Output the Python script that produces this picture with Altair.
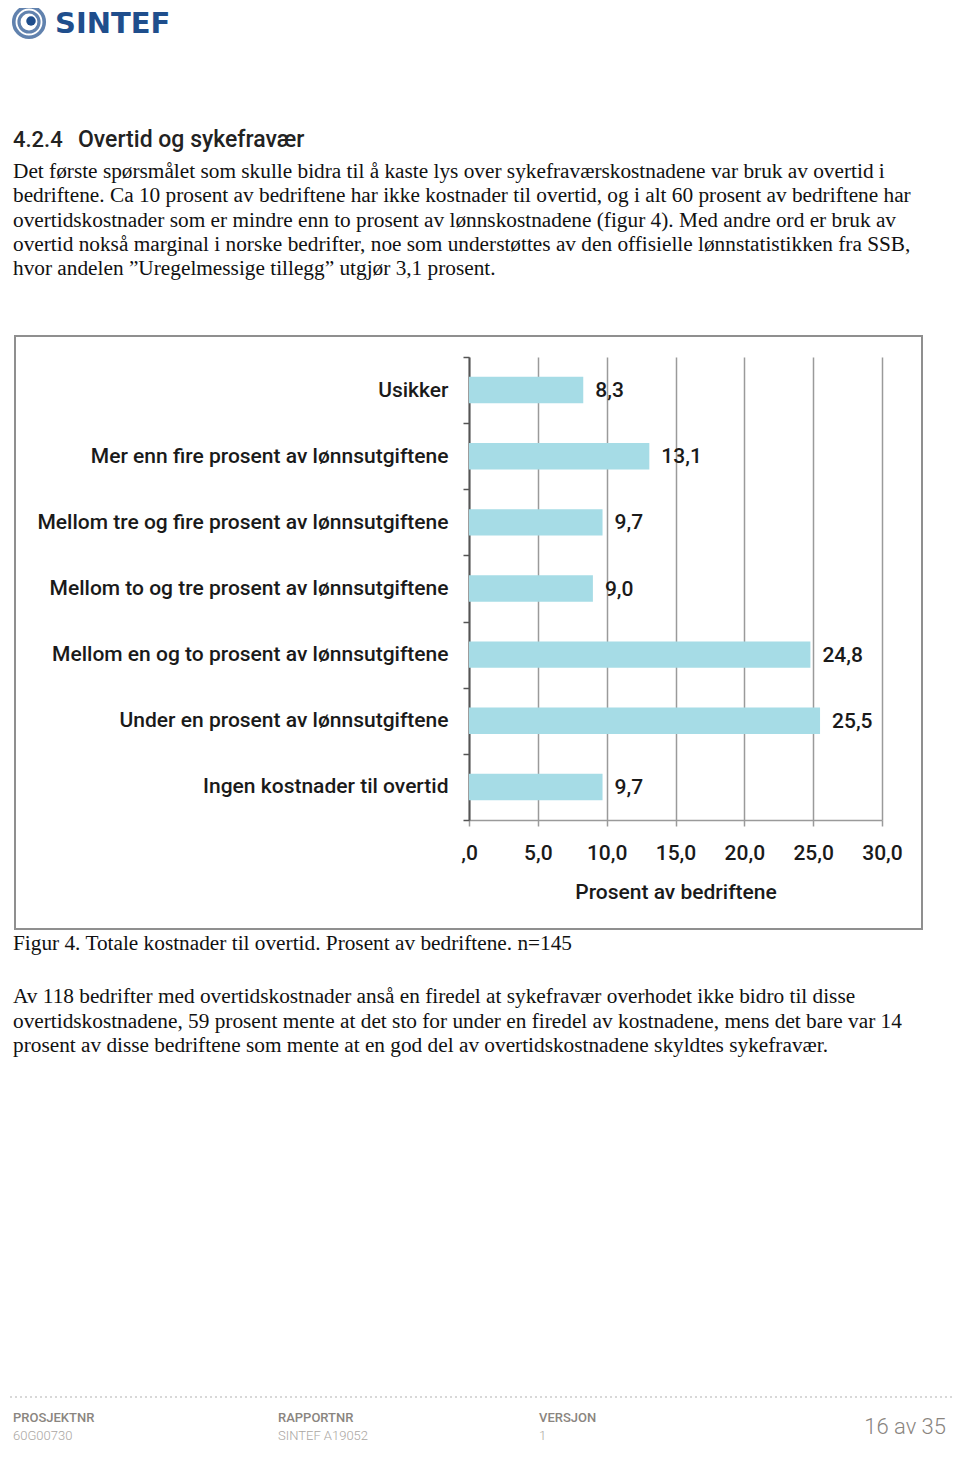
import altair as alt
import pandas as pd

# ---------------- data ----------------
categories = [
    "Usikker",
    "Mer enn fire prosent av lønnsutgiftene",
    "Mellom tre og fire prosent av lønnsutgiftene",
    "Mellom to og tre prosent av lønnsutgiftene",
    "Mellom en og to prosent av lønnsutgiftene",
    "Under en prosent av lønnsutgiftene",
    "Ingen kostnader til overtid",
]
values = [8.3, 13.1, 9.7, 9.0, 24.8, 25.5, 9.7]
value_labels = [f"{v:.1f}".replace(".", ",") for v in values]
tick_values = [0, 5, 10, 15, 20, 25, 30]
tick_labels = [",0", "5,0", "10,0", "15,0", "20,0", "25,0", "30,0"]

heading_num = "4.2.4"
heading_text = "Overtid og sykefravær"
para1 = [
    "Det første spørsmålet som skulle bidra til å kaste lys over sykefraværskostnadene var bruk av overtid i",
    "bedriftene. Ca 10 prosent av bedriftene har ikke kostnader til overtid, og i alt 60 prosent av bedriftene har",
    "overtidskostnader som er mindre enn to prosent av lønnskostnadene (figur 4). Med andre ord er bruk av",
    "overtid nokså marginal i norske bedrifter, noe som understøttes av den offisielle lønnstatistikken fra SSB,",
    "hvor andelen ”Uregelmessige tillegg” utgjør 3,1 prosent.",
]
caption = "Figur 4. Totale kostnader til overtid. Prosent av bedriftene. n=145"
para2 = [
    "Av 118 bedrifter med overtidskostnader anså en firedel at sykefravær overhodet ikke bidro til disse",
    "overtidskostnadene, 59 prosent mente at det sto for under en firedel av kostnadene, mens det bare var 14",
    "prosent av disse bedriftene som mente at en god del av overtidskostnadene skyldtes sykefravær.",
]
footer_heads = ["PROSJEKTNR", "RAPPORTNR", "VERSJON"]
footer_vals = ["60G00730", "SINTEF A19052", "1"]
page_label = "16 av 35"

df = pd.DataFrame({"cat": categories, "val": values, "lab": value_labels})
one = pd.DataFrame({"k": [0]})

# ---------------- styles ----------------
CF = "Roboto"
SERIF = "Liberation Serif"
INK = "#1a1a1a"
BAR = "#a6dce6"
SERIF_SIZE = 21.3

label_expr = " : ".join(
    f"datum.value == {v} ? '{l}'" for v, l in zip(tick_values, tick_labels)
) + " : ''"

x_enc = alt.X(
    "val:Q",
    scale=alt.Scale(domain=[0, 30], nice=False),
    axis=alt.Axis(
        values=tick_values,
        labelExpr=label_expr,
        labelFlush=False,
        grid=True,
        gridColor="#9a9a9a",
        gridWidth=1.5,
        domainColor="#9a9a9a",
        domainWidth=1.5,
        tickColor="#9a9a9a",
        tickWidth=1.5,
        tickSize=6,
        labelFont=CF,
        labelFontSize=21,
        labelFontWeight=500,
        labelColor=INK,
        labelPadding=16,
        title="Prosent av bedriftene",
        titleFont=CF,
        titleFontSize=21,
        titleFontWeight=500,
        titleColor=INK,
        titlePadding=18,
    ),
)
y_enc = alt.Y(
    "cat:N",
    sort=categories,
    scale=alt.Scale(paddingInner=0, paddingOuter=0),
    axis=alt.Axis(
        title=None,
        domainColor="#555555",
        domainWidth=2,
        tickColor="#555555",
        tickWidth=1.5,
        tickSize=6,
        tickBand="extent",
        labelFont=CF,
        labelFontSize=21,
        labelFontWeight=500,
        labelColor=INK,
        labelPadding=15,
        labelLimit=0,
    ),
)

bars = alt.Chart(df).mark_bar(color=BAR, height=alt.RelativeBandSize(0.4)).encode(x=x_enc, y=y_enc)
vlabels = alt.Chart(df).mark_text(
    align="left", baseline="middle", dx=12, dy=1, font=CF, fontSize=21, fontWeight=500, color=INK
).encode(x="val:Q", y=alt.Y("cat:N", sort=categories), text="lab:N")

# box around the figure
box = alt.Chart(one).mark_rect(fillOpacity=0, stroke="#8f8f8f", strokeWidth=2).encode(
    x=alt.value(-454), x2=alt.value(453), y=alt.value(-21), y2=alt.value(572)
)

def txt(text, x, y, **kw):
    base = dict(align="left", baseline="alphabetic")
    base.update(kw)
    return alt.Chart(one).mark_text(**base).encode(
        x=alt.value(x), y=alt.value(y), text=alt.value(text)
    )

# logo
logo_ring1 = alt.Chart(one).mark_point(shape="circle", filled=False, color="#1f4e8c", strokeWidth=3.6, size=930).encode(
    x=alt.value(-440), y=alt.value(-335)
)
logo_ring2 = alt.Chart(one).mark_point(shape="circle", filled=False, color="#1f4e8c", strokeWidth=3.2, size=400).encode(
    x=alt.value(-440), y=alt.value(-335)
)
logo_core = alt.Chart(one).mark_point(shape="circle", filled=True, color="#1f4e8c", opacity=1, size=90).encode(
    x=alt.value(-438), y=alt.value(-336)
)
logo_text = txt("SINTEF", -414, -324, font="DejaVu Sans", fontSize=29, fontWeight="bold", color="#1f4e8c")

heading1 = txt(heading_num, -456, -210, font=CF, fontSize=22, fontWeight=500, color="#222222")
heading2 = txt(heading_text, -391, -210, font=CF, fontSize=23, fontWeight=500, color="#222222")
p1 = txt(para1, -456, -179, font=SERIF, fontSize=SERIF_SIZE, lineHeight=24.3, color="#111111")
cap = txt(caption, -456, 593, font=SERIF, fontSize=SERIF_SIZE, color="#111111")
p2 = txt(para2, -456, 646, font=SERIF, fontSize=SERIF_SIZE, lineHeight=24.5, color="#111111")

dots1 = alt.Chart(one).mark_rule(color="#cccccc", strokeDash=[2, 3], strokeWidth=1.5).encode(
    x=alt.value(-469), x2=alt.value(491), y=alt.value(1040)
)
dots2 = alt.Chart(one).mark_rule(color="#cccccc", strokeDash=[2, 3], strokeWidth=1.5).encode(
    x=alt.value(-469), x2=alt.value(491), y=alt.value(1095)
)
fx = [-456, -191, 70]
foot = []
for h, v, x in zip(footer_heads, footer_vals, fx):
    foot.append(txt(h, x, 1061, baseline="middle", font=CF, fontSize=13, fontWeight=500, color="#8a8580"))
    foot.append(txt(v, x, 1079, baseline="middle", font=CF, fontSize=13, fontWeight=300, color="#aaa6a2"))
pg = txt(page_label, 477, 1070, align="right", baseline="middle", font=CF, fontSize=22, fontWeight=300, color="#8a8580")

chart = alt.layer(
    box, bars, vlabels,
    logo_ring1, logo_ring2, logo_core, logo_text,
    heading1, heading2, p1, cap, p2,
    dots1, dots2, *foot, pg,
).properties(
    width=413,
    height=463,
    autosize="none",
    padding={"left": 461, "top": 349, "right": 70, "bottom": 629},
    background="white",
).configure_view(stroke=None)

chart.save("out.html", embed_options={"renderer": "svg", "actions": False})
